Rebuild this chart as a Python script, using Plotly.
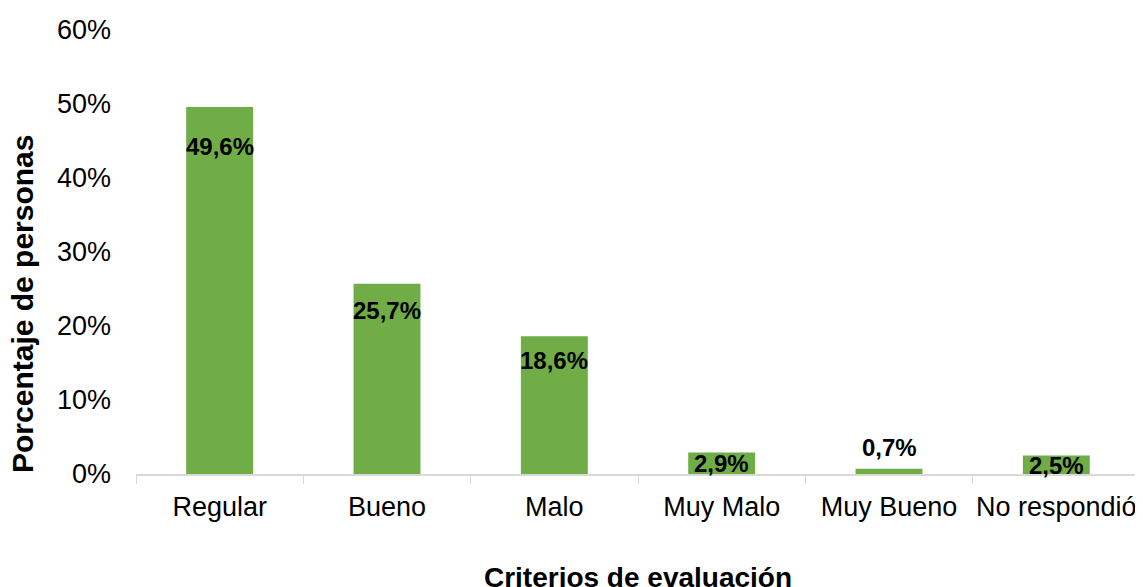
import plotly.graph_objects as go

categories = ["Regular", "Bueno", "Malo", "Muy Malo", "Muy Bueno", "No respondió"]
values = [49.6, 25.7, 18.6, 2.9, 0.7, 2.5]
labels = ["49,6%", "25,7%", "18,6%", "2,9%", "0,7%", "2,5%"]
tick_vals = [0, 10, 20, 30, 40, 50, 60]
tick_text = ["0%", "10%", "20%", "30%", "40%", "50%", "60%"]

# vertical offsets (px) of the data labels relative to bar tops
label_shift = [-40, -27, -24, -11, 21, -10]

FONT = "Liberation Sans, Arial, sans-serif"

fig = go.Figure()
fig.add_trace(go.Bar(
    x=categories, y=values,
    marker=dict(color="#70ad47", line=dict(width=0)),
    width=0.4,
    hoverinfo="skip",
))

for c, v, t, s in zip(categories, values, labels, label_shift):
    fig.add_annotation(
        x=c, y=v, text=f"<b>{t}</b>", showarrow=False,
        yanchor="middle", yshift=s,
        font=dict(family=FONT, size=24, color="black"),
    )

# y-axis title (placed lower than plot centre, as in the reference)
fig.add_annotation(
    xref="paper", yref="paper", x=-0.1125, y=0.383,
    text="<b>Porcentaje de personas</b>", textangle=-90, showarrow=False,
    xanchor="center", yanchor="middle",
    font=dict(family=FONT, size=30, color="black"),
)

fig.update_layout(
    width=1143, height=587,
    margin=dict(l=128, r=11, t=22, b=121),
    paper_bgcolor="white", plot_bgcolor="white",
    showlegend=False,
    font=dict(family=FONT, color="black"),
    bargap=0.6,
)
fig.update_xaxes(
    showline=True, linecolor="#d9d9d9", linewidth=1.5,
    ticks="outside", tickson="boundaries", ticklen=8, tickcolor="#d9d9d9",
    tickfont=dict(size=27, family=FONT),
    tickangle=0, automargin=False,
    ticklabelstandoff=8,
    showgrid=False, zeroline=False,
    title=dict(text="<b>Criterios de evaluación</b>", font=dict(size=28, family=FONT), standoff=46),
)
fig.update_yaxes(
    range=[0, 60], tickvals=tick_vals, ticktext=tick_text,
    showline=False, showgrid=False, zeroline=False,
    tickfont=dict(size=27, family=FONT),
    automargin=False,
    ticklabelstandoff=24,
)

fig.write_html("out.html")
